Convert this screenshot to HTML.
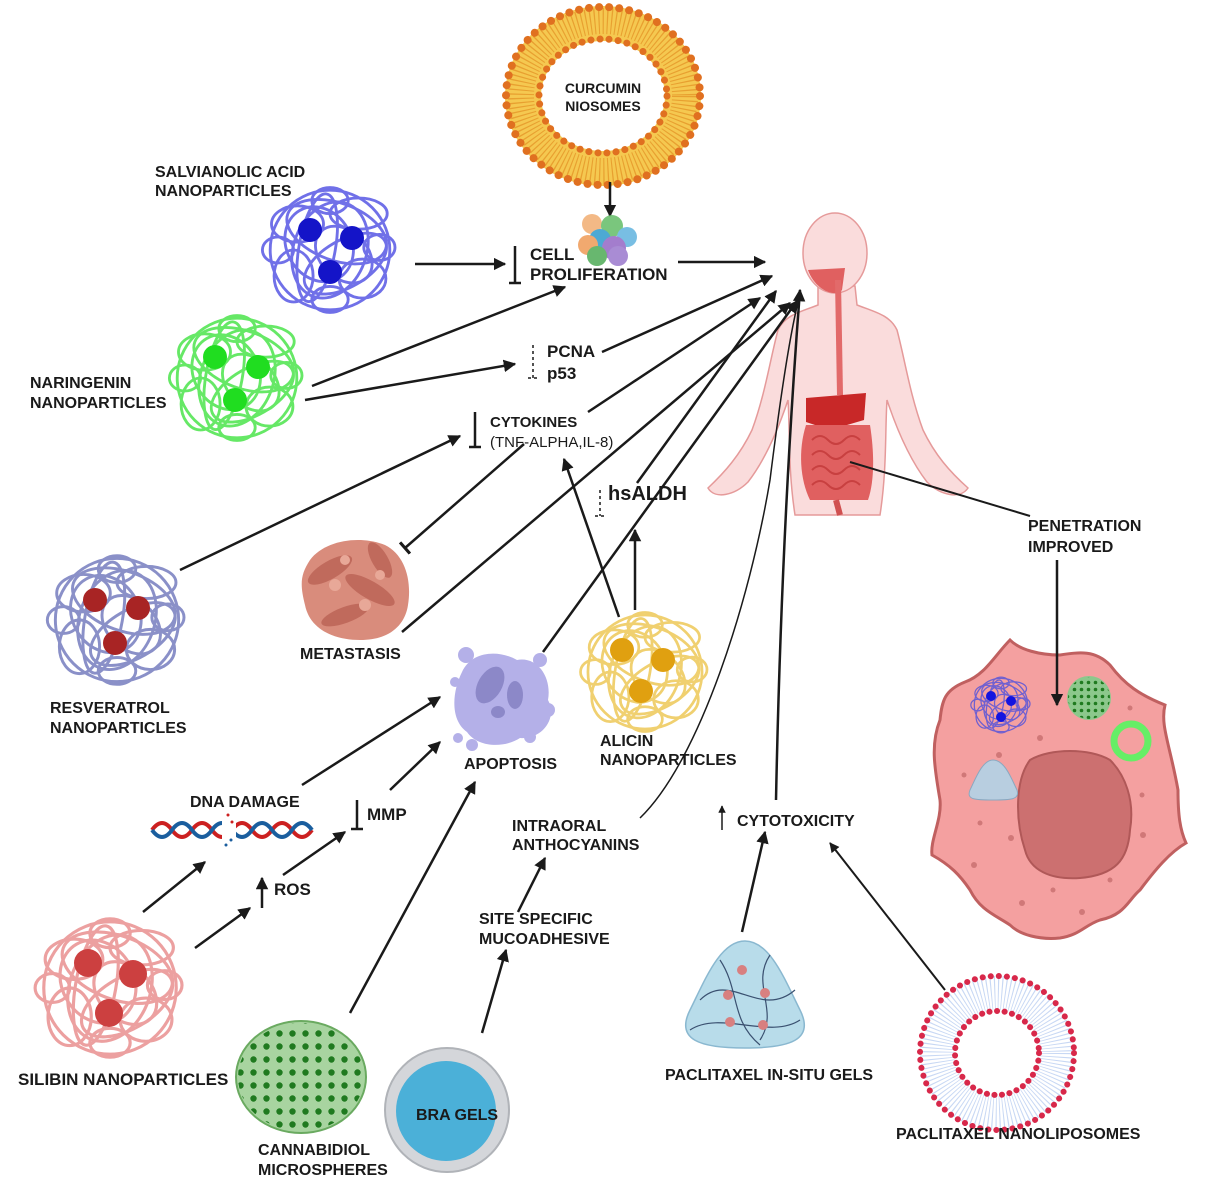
<!DOCTYPE html>
<html><head><meta charset="utf-8"><style>
html,body{margin:0;padding:0;background:#fff;}
svg{display:block;}
text{font-family:"Liberation Sans",sans-serif;font-weight:bold;fill:#1a1a1a;}
</style></head><body>
<svg width="1213" height="1200" viewBox="0 0 1213 1200" xmlns="http://www.w3.org/2000/svg">
<defs>
<marker id="ah" viewBox="0 0 10 10" refX="9" refY="5" markerWidth="5" markerHeight="5" orient="auto-start-reverse"><path d="M0,0 L10,5 L0,10 z" fill="#1a1a1a"/></marker>
<marker id="tb" viewBox="0 0 4 12" refX="2" refY="6" markerWidth="4" markerHeight="6" orient="auto"><path d="M2,0 L2,12" stroke="#1a1a1a" stroke-width="2.5"/></marker>
<symbol id="tangle" viewBox="-50 -50 100 100" overflow="visible">
<g fill="none" stroke="currentColor" stroke-width="2.2">
<circle r="46"/>
<ellipse rx="40" ry="22" transform="rotate(20) translate(0,-15)"/>
<ellipse rx="35" ry="18" transform="rotate(-30) translate(5,15)"/>
<ellipse rx="30" ry="25" transform="rotate(60) translate(-8,5)"/>
<ellipse rx="42" ry="14" transform="rotate(100) translate(0,10)"/>
<ellipse rx="20" ry="14" transform="translate(-25,-20)"/>
<ellipse rx="18" ry="15" transform="translate(25,22)"/>
<ellipse rx="15" ry="20" transform="translate(-28,20)"/>
<ellipse rx="22" ry="12" transform="translate(22,-28)"/>
<ellipse rx="38" ry="28" transform="rotate(-70)"/>
<ellipse rx="12" ry="10" transform="translate(38,-2)"/>
<ellipse rx="12" ry="10" transform="translate(-40,0)"/>
<ellipse rx="14" ry="10" transform="translate(0,38)"/>
<ellipse rx="14" ry="10" transform="translate(0,-38)"/>
<ellipse rx="25" ry="18" transform="rotate(45) translate(10,-5)"/>
</g>
</symbol>
<pattern id="dots" width="13" height="13" patternUnits="userSpaceOnUse"><circle cx="6.5" cy="6.5" r="3.2" fill="#1f7a1f"/></pattern>
<pattern id="dots2" width="7" height="7" patternUnits="userSpaceOnUse"><circle cx="3.5" cy="3.5" r="1.8" fill="#1f7a1f"/></pattern>
</defs>

<!-- Curcumin niosome -->
<ellipse cx="603" cy="96" rx="98" ry="90" fill="#f5c850"/>
<ellipse cx="603" cy="96" rx="82" ry="75" fill="none" stroke="#e8a030" stroke-width="26" stroke-dasharray="1.2 3"/>
<ellipse cx="603" cy="96" rx="97" ry="89" fill="none" stroke="#e07020" stroke-width="8" stroke-dasharray="0.1 10" stroke-linecap="round"/>
<ellipse cx="603" cy="96" rx="62" ry="55" fill="#fff"/>
<ellipse cx="603" cy="96" rx="64" ry="57" fill="none" stroke="#e07020" stroke-width="7" stroke-dasharray="0.1 9" stroke-linecap="round"/>
<text x="603" y="93" font-size="14" text-anchor="middle">CURCUMIN</text>
<text x="603" y="111" font-size="14" text-anchor="middle">NIOSOMES</text>
<line x1="610" y1="182" x2="610" y2="216" stroke="#1a1a1a" stroke-width="2.5" marker-end="url(#ah)"/>

<!-- cell cluster -->
<g opacity="0.9">
<circle cx="592" cy="224" r="10" fill="#f2b27a"/>
<circle cx="612" cy="226" r="11" fill="#6cc070"/>
<circle cx="627" cy="237" r="10" fill="#6ab8e0"/>
<circle cx="600" cy="240" r="11" fill="#3aa0d0"/>
<circle cx="588" cy="245" r="10" fill="#f0a060"/>
<circle cx="614" cy="248" r="12" fill="#9a70c8"/>
<circle cx="597" cy="256" r="10" fill="#58b060"/>
<circle cx="618" cy="256" r="10" fill="#a080d0"/>
</g>

<!-- Body -->
<g fill="#fadcdc" stroke="#e59a9a" stroke-width="1.5">
<path d="M818,286 L818,305 C800,312 785,315 778,330 C770,360 765,395 752,430 C740,455 725,472 708,488 C715,500 735,495 748,482 C765,460 778,430 788,400 C790,430 788,470 795,515 L880,515 C887,470 885,430 887,400 C897,430 910,460 927,482 C940,495 960,500 968,488 C950,472 935,455 923,430 C910,395 905,360 897,330 C890,315 875,312 857,305 L855,286 Z"/>
<ellipse cx="835" cy="253" rx="32" ry="40"/>
</g>
<path d="M808,270 C815,290 835,298 842,290 L845,268 Z" fill="#e06060"/>
<path d="M838,280 L840,395" stroke="#e26a6a" stroke-width="6" fill="none"/>
<path d="M806,398 L866,393 L864,420 L830,430 L806,422 Z" fill="#c82828"/>
<path d="M806,425 C798,450 800,480 810,500 L868,500 C875,480 874,450 870,425 Z" fill="#e06060"/>
<g fill="none" stroke="#c84040" stroke-width="2"><path d="M812,440 q8,-8 16,0 t16,0 t16,0"/><path d="M812,455 q8,-8 16,0 t16,0 t16,0"/><path d="M812,470 q8,-8 16,0 t16,0 t16,0"/><path d="M812,485 q8,-8 16,0 t16,0 t16,0"/></g>
<path d="M836,500 L840,515" stroke="#d05050" stroke-width="6"/>

<!-- Nanoparticle tangles -->
<use href="#tangle" x="265" y="185" width="130" height="130" style="color:#7070e8"/>
<circle cx="310" cy="230" r="12" fill="#1414c8"/><circle cx="352" cy="238" r="12" fill="#1414c8"/><circle cx="330" cy="272" r="12" fill="#1414c8"/>

<use href="#tangle" x="172" y="313" width="130" height="130" style="color:#66e866"/>
<circle cx="215" cy="357" r="12" fill="#20dd20"/><circle cx="258" cy="367" r="12" fill="#20dd20"/><circle cx="235" cy="400" r="12" fill="#20dd20"/>

<use href="#tangle" x="50" y="553" width="134" height="134" style="color:#8a90c8"/>
<circle cx="95" cy="600" r="12" fill="#a82424"/><circle cx="138" cy="608" r="12" fill="#a82424"/><circle cx="115" cy="643" r="12" fill="#a82424"/>

<use href="#tangle" x="583" y="610" width="124" height="124" style="color:#f0d070"/>
<circle cx="622" cy="650" r="12" fill="#e0a010"/><circle cx="663" cy="660" r="12" fill="#e0a010"/><circle cx="641" cy="691" r="12" fill="#e0a010"/>

<use href="#tangle" x="38" y="916" width="144" height="144" style="color:#eca0a0"/>
<circle cx="88" cy="963" r="14" fill="#cc4040"/><circle cx="133" cy="974" r="14" fill="#cc4040"/><circle cx="109" cy="1013" r="14" fill="#cc4040"/>

<!-- Metastasis -->
<path d="M310,560 C325,540 360,535 385,545 C405,555 412,580 408,605 C405,625 390,640 360,640 C335,640 310,630 305,605 C300,585 300,575 310,560 Z" fill="#d98c7c"/>
<g fill="#c06a5c"><ellipse cx="330" cy="570" rx="25" ry="9" transform="rotate(-30 330 570)"/><ellipse cx="370" cy="590" rx="28" ry="9" transform="rotate(30 370 590)"/><ellipse cx="345" cy="615" rx="25" ry="8" transform="rotate(-20 345 615)"/><ellipse cx="380" cy="560" rx="20" ry="8" transform="rotate(60 380 560)"/></g>
<g fill="#e8a898"><circle cx="335" cy="585" r="6"/><circle cx="365" cy="605" r="6"/><circle cx="380" cy="575" r="5"/><circle cx="345" cy="560" r="5"/></g>

<!-- Apoptosis -->
<path d="M462,672 C472,650 500,650 517,660 C538,656 552,678 548,700 C558,718 542,740 520,738 C505,748 478,748 467,732 C450,720 452,692 462,672 Z" fill="#b4b0e8"/>
<ellipse cx="490" cy="685" rx="12" ry="20" transform="rotate(30 490 685)" fill="#8c88c8"/>
<ellipse cx="515" cy="695" rx="8" ry="14" fill="#8c88c8"/>
<ellipse cx="498" cy="712" rx="7" ry="6" fill="#8c88c8"/>
<g fill="#b4b0e8"><circle cx="466" cy="655" r="8"/><circle cx="455" cy="682" r="5"/><circle cx="540" cy="660" r="7"/><circle cx="548" cy="710" r="7"/><circle cx="458" cy="738" r="5"/><circle cx="472" cy="745" r="6"/><circle cx="530" cy="737" r="6"/></g>

<!-- DNA -->
<path d="M152,830 q10,-14 20,0 t20,0 t20,0 t20,0 t20,0 t20,0 t20,0 t20,0" fill="none" stroke="#cc2020" stroke-width="4"/>
<path d="M152,830 q10,14 20,0 t20,0 t20,0 t20,0 t20,0 t20,0 t20,0 t20,0" fill="none" stroke="#1a5e9e" stroke-width="4"/>
<rect x="222" y="810" width="14" height="38" fill="#fff"/>
<g fill="#cc2020"><circle cx="228" cy="815" r="1.5"/><circle cx="232" cy="822" r="1.5"/></g><g fill="#1a5e9e"><circle cx="226" cy="845" r="1.5"/><circle cx="231" cy="840" r="1.5"/></g>

<!-- Cannabidiol -->
<ellipse cx="301" cy="1077" rx="65" ry="56" fill="#a8d4a0" stroke="#6aaa60" stroke-width="2"/>
<ellipse cx="301" cy="1077" rx="63" ry="54" fill="url(#dots)"/>

<!-- Bra gels -->
<circle cx="447" cy="1110" r="62" fill="#d4d6da" stroke="#b0b3b8" stroke-width="2"/>
<circle cx="446" cy="1111" r="50" fill="#4bb0d8"/>
<text x="416" y="1120" font-size="16">BRA GELS</text>

<!-- Paclitaxel in-situ gel -->
<path d="M745,941 C770,941 785,980 800,1010 C815,1040 790,1048 745,1048 C700,1048 675,1040 690,1010 C705,980 720,941 745,941 Z" fill="#b8dcea" stroke="#8ab8d0" stroke-width="1.5"/>
<g fill="none" stroke="#3a5070" stroke-width="1.2"><path d="M700,1000 C730,970 760,1020 795,990"/><path d="M690,1030 C720,1010 770,1040 800,1020"/><path d="M720,960 C740,990 730,1020 760,1045"/><path d="M770,955 C750,985 780,1010 760,1040"/></g>
<g fill="#d88080"><circle cx="742" cy="970" r="5"/><circle cx="728" cy="995" r="5"/><circle cx="765" cy="993" r="5"/><circle cx="730" cy="1022" r="5"/><circle cx="763" cy="1025" r="5"/></g>

<!-- Nanoliposome -->
<circle cx="997" cy="1053" r="60" fill="none" stroke="#c8d8f4" stroke-width="34" stroke-dasharray="1 2.5"/>
<circle cx="997" cy="1053" r="77" fill="none" stroke="#d8284a" stroke-width="6" stroke-dasharray="0.1 8" stroke-linecap="round"/>
<circle cx="997" cy="1053" r="42" fill="none" stroke="#d8284a" stroke-width="6" stroke-dasharray="0.1 7.5" stroke-linecap="round"/>

<!-- Right cell -->
<path d="M1010,640 C1020,650 1040,655 1060,655 C1080,652 1095,650 1110,665 C1125,685 1140,695 1165,705 C1160,725 1170,745 1178,790 C1178,815 1180,830 1186,843 C1170,852 1155,870 1140,890 C1128,900 1125,915 1100,920 C1085,925 1080,935 1060,938 C1040,940 1020,935 1010,925 C995,915 980,910 970,890 C960,875 950,865 932,855 C930,840 942,820 940,800 C935,770 930,745 940,720 C942,700 945,690 965,682 C985,675 995,655 1010,640 Z" fill="#f4a0a0" stroke="#c06060" stroke-width="3"/>
<path d="M1030,760 C1050,748 1090,748 1110,760 C1125,775 1135,800 1130,830 C1128,860 1115,875 1080,878 C1050,880 1030,870 1025,850 C1015,820 1015,780 1030,760 Z" fill="#cc7070" stroke="#b05858" stroke-width="2"/>
<g fill="#d07878"><circle cx="1040" cy="738" r="3"/><circle cx="999" cy="755" r="3"/><circle cx="964" cy="775" r="2.5"/><circle cx="980" cy="823" r="2.5"/><circle cx="1011" cy="838" r="3"/><circle cx="974" cy="865" r="3"/><circle cx="1022" cy="903" r="3"/><circle cx="1082" cy="912" r="3"/><circle cx="1053" cy="890" r="2.5"/><circle cx="1110" cy="880" r="2.5"/><circle cx="1142" cy="795" r="2.5"/><circle cx="1143" cy="835" r="3"/><circle cx="1130" cy="708" r="2.5"/></g>
<use href="#tangle" x="972" y="676" width="58" height="58" style="color:#7060d0"/>
<circle cx="991" cy="696" r="5" fill="#1414e0"/><circle cx="1011" cy="701" r="5" fill="#1414e0"/><circle cx="1001" cy="717" r="5" fill="#1414e0"/>
<circle cx="1089" cy="698" r="22" fill="#8cc88c"/><circle cx="1089" cy="698" r="21" fill="url(#dots2)"/>
<circle cx="1131" cy="741" r="17" fill="none" stroke="#66ee66" stroke-width="7"/>
<path d="M993,760 C1005,760 1012,780 1017,790 C1020,800 1010,800 993,800 C976,800 966,800 970,790 C975,780 982,760 993,760 Z" fill="#b8cee0" stroke="#8aa8c0"/>

<!-- Arrows -->
<g stroke="#1a1a1a" stroke-width="2.5" fill="none">
<line x1="415" y1="264" x2="505" y2="264" marker-end="url(#ah)"/>
<path d="M515,246 L515,283 M509,283 L521,283"/>
<line x1="678" y1="262" x2="765" y2="262" marker-end="url(#ah)"/>
<line x1="312" y1="386" x2="565" y2="287" marker-end="url(#ah)"/>
<line x1="305" y1="400" x2="515" y2="364" marker-end="url(#ah)"/>
<line x1="602" y1="352" x2="772" y2="276" marker-end="url(#ah)"/>
<line x1="588" y1="412" x2="760" y2="298" marker-end="url(#ah)"/>
<line x1="637" y1="483" x2="776" y2="291" marker-end="url(#ah)"/>
<line x1="543" y1="652" x2="797" y2="301" marker-end="url(#ah)"/>
<line x1="402" y1="632" x2="790" y2="303" marker-end="url(#ah)"/>
<line x1="524" y1="444" x2="405" y2="548" marker-end="url(#tb)"/>
<path d="M475,412 L475,447 M469,447 L481,447"/>
<line x1="180" y1="570" x2="460" y2="436" marker-end="url(#ah)"/>
<line x1="619" y1="617" x2="564" y2="459" marker-end="url(#ah)"/>
<line x1="635" y1="610" x2="635" y2="530" marker-end="url(#ah)"/>
<line x1="742" y1="932" x2="765" y2="832" marker-end="url(#ah)"/>
<line x1="945" y1="990" x2="830" y2="843" stroke-width="2" marker-end="url(#ah)"/>
<path d="M776,800 C780,600 790,420 800,290" marker-end="url(#ah)"/>
<line x1="850" y1="462" x2="1030" y2="516" stroke-width="2"/>
<line x1="1057" y1="560" x2="1057" y2="705" marker-end="url(#ah)"/>
<line x1="302" y1="785" x2="440" y2="697" marker-end="url(#ah)"/>
<line x1="390" y1="790" x2="440" y2="742" marker-end="url(#ah)"/>
<line x1="350" y1="1013" x2="475" y2="782" marker-end="url(#ah)"/>
<path d="M357,800 L357,829 M351,829 L363,829"/>
<line x1="262" y1="908" x2="262" y2="878" marker-end="url(#ah)"/>
<line x1="143" y1="912" x2="205" y2="862" marker-end="url(#ah)"/>
<line x1="195" y1="948" x2="250" y2="908" marker-end="url(#ah)"/>
<line x1="283" y1="875" x2="345" y2="832" marker-end="url(#ah)"/>
<line x1="482" y1="1033" x2="506" y2="950" marker-end="url(#ah)"/>
<line x1="518" y1="912" x2="545" y2="858" marker-end="url(#ah)"/>
<line x1="722" y1="830" x2="722" y2="806" stroke-width="1.5" marker-end="url(#ah)"/>
<path d="M640,818 C700,760 750,600 770,480 C780,400 790,330 800,295" stroke-width="1.5"/>
<path d="M533,345 L533,378 M528,378 L538,378" stroke-width="1.5" stroke-dasharray="3 3"/>
<path d="M600,490 L600,516 M595,516 L605,516" stroke-width="1.5" stroke-dasharray="3 3"/>
</g>

<!-- Labels -->
<g font-size="16">
<text x="155" y="177">SALVIANOLIC ACID</text>
<text x="155" y="196">NANOPARTICLES</text>
<text x="530" y="260" font-size="17">CELL</text>
<text x="530" y="280" font-size="17">PROLIFERATION</text>
<text x="30" y="388">NARINGENIN</text>
<text x="30" y="408">NANOPARTICLES</text>
<text x="547" y="357" font-size="17">PCNA</text>
<text x="547" y="379" font-size="17">p53</text>
<text x="490" y="427" font-size="15">CYTOKINES</text>
<text x="490" y="447" font-size="15" style="font-weight:normal">(TNF-ALPHA,IL-8)</text>
<text x="608" y="500" font-size="20">hsALDH</text>
<text x="300" y="659">METASTASIS</text>
<text x="50" y="713">RESVERATROL</text>
<text x="50" y="733">NANOPARTICLES</text>
<text x="464" y="769">APOPTOSIS</text>
<text x="600" y="746">ALICIN</text>
<text x="600" y="765">NANOPARTICLES</text>
<text x="190" y="807">DNA DAMAGE</text>
<text x="367" y="820" font-size="17">MMP</text>
<text x="274" y="895" font-size="17">ROS</text>
<text x="512" y="831">INTRAORAL</text>
<text x="512" y="850">ANTHOCYANINS</text>
<text x="737" y="826">CYTOTOXICITY</text>
<text x="1028" y="531">PENETRATION</text>
<text x="1028" y="552">IMPROVED</text>
<text x="479" y="924">SITE SPECIFIC</text>
<text x="479" y="944">MUCOADHESIVE</text>
<text x="18" y="1085" font-size="17">SILIBIN NANOPARTICLES</text>
<text x="258" y="1155">CANNABIDIOL</text>
<text x="258" y="1175">MICROSPHERES</text>
<text x="665" y="1080">PACLITAXEL IN-SITU GELS</text>
<text x="896" y="1139">PACLITAXEL NANOLIPOSOMES</text>
</g>
</svg>
</body></html>
